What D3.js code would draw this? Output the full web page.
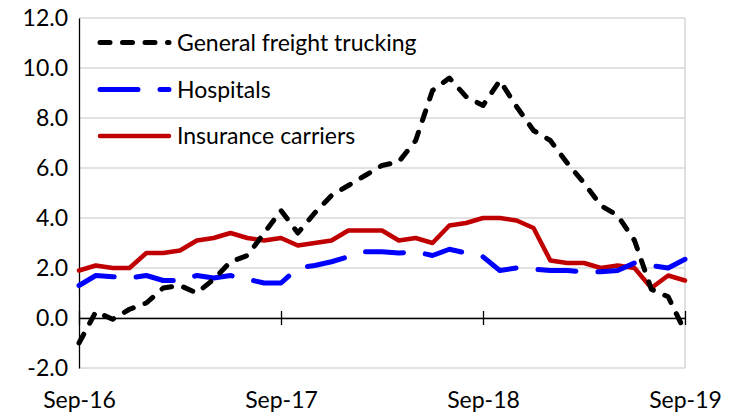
<!DOCTYPE html>
<html>
<head>
<meta charset="utf-8">
<script src="https://cdn.jsdelivr.net/npm/d3@7"></script>
<style>
  body { margin: 0; background: #fff; }
  svg text { font-family: Lato, "Open Sans", sans-serif; font-size: 23px; fill: #000; }
</style>
</head>
<body>
<svg id="chart"></svg>
<script>
// Monthly series, Sep-16 .. Sep-19 (37 points each)
const months = d3.timeMonth.range(new Date(2016, 8, 1), new Date(2019, 9, 1)).map(d3.timeFormat("%b-%y"));
const tickLabels = ["Sep-16", "Sep-17", "Sep-18", "Sep-19"];
const yTicks = [-2, 0, 2, 4, 6, 8, 10, 12];

const freight = [-1.0, 0.25, -0.05, 0.35, 0.6, 1.2, 1.3, 1.0, 1.55, 2.25, 2.5, 3.4, 4.3,
  3.4, 4.2, 4.9, 5.3, 5.7, 6.1, 6.25, 7.1, 9.1, 9.6, 8.85, 8.5,
  9.5, 8.45, 7.5, 7.1, 6.2, 5.4, 4.5, 4.1, 3.1, 1.15, 0.85, -0.55];
const hospitals = [1.3, 1.7, 1.65, 1.6, 1.7, 1.5, 1.5, 1.7, 1.6, 1.7, 1.55, 1.4, 1.4,
  2.0, 2.1, 2.25, 2.45, 2.65, 2.65, 2.6, 2.65, 2.5, 2.75, 2.6, 2.45,
  1.9, 2.0, 1.95, 1.9, 1.9, 1.85, 1.85, 1.9, 2.2, 2.1, 2.0, 2.35];
const insurance = [1.9, 2.1, 2.0, 2.0, 2.6, 2.6, 2.7, 3.1, 3.2, 3.4, 3.2, 3.1, 3.2,
  2.9, 3.0, 3.1, 3.5, 3.5, 3.5, 3.1, 3.2, 3.0, 3.7, 3.8, 4.0,
  4.0, 3.9, 3.6, 2.3, 2.2, 2.2, 2.0, 2.1, 2.0, 1.2, 1.7, 1.5];

const seriesNames = ["General freight trucking", "Hospitals", "Insurance carriers"];

const width = 733, height = 413;
const plotLeft = 79, plotRight = 685, plotTop = 18, plotBottom = 368;

const svg = d3.select("#chart").attr("width", width).attr("height", height);

const x = d3.scalePoint().domain(months).range([plotLeft, plotRight]);
const y = d3.scaleLinear().domain([-2, 12]).range([plotBottom, plotTop]);

// gridlines
svg.append("g")
  .selectAll("line")
  .data(yTicks)
  .join("line")
  .attr("x1", plotLeft).attr("x2", plotRight)
  .attr("y1", d => y(d)).attr("y2", d => y(d))
  .attr("stroke", "#d9d9d9").attr("stroke-width", 1.3);

// right border of plot area
svg.append("line")
  .attr("x1", plotRight).attr("x2", plotRight).attr("y1", plotTop).attr("y2", plotBottom)
  .attr("stroke", "#d0d0d0").attr("stroke-width", 1.3);

// y axis
const yAxis = svg.append("g")
  .attr("transform", `translate(${plotLeft},0)`)
  .call(d3.axisLeft(y).tickValues(yTicks).tickSize(0).tickPadding(11).tickFormat(d => d.toFixed(1)));
yAxis.select(".domain").attr("stroke", "#000").attr("stroke-width", 1.3);
yAxis.selectAll("text").style("font-family", "Lato, sans-serif").style("font-size", "23px");

// x axis at zero, ticks crossing the line
const xAxis = svg.append("g")
  .attr("transform", `translate(0,${y(0)})`)
  .call(d3.axisBottom(x).tickValues(tickLabels).tickSize(7).tickSizeOuter(0));
xAxis.select(".domain").attr("stroke", "#000").attr("stroke-width", 1.3);
xAxis.selectAll(".tick line").attr("y1", -7).attr("stroke-width", 1.3);
xAxis.selectAll("text").attr("y", 74)
  .style("font-family", "Lato, sans-serif").style("font-size", "23px");

const line = d3.line()
  .x((d, i) => x(months[i]))
  .y(d => y(d));

const styles = [
  { color: "#000000", dash: "10,12.5", width: 5 },
  { color: "#0000ff", dash: "38,22", width: 5 },
  { color: "#c00000", dash: null, width: 4.5 }
];
const allSeries = [freight, hospitals, insurance];

// draw red first, then blue, black on top
[2, 1, 0].forEach(k => {
  svg.append("path")
    .datum(allSeries[k])
    .attr("d", line)
    .attr("fill", "none")
    .attr("stroke", styles[k].color)
    .attr("stroke-width", styles[k].width)
    .attr("stroke-dasharray", styles[k].dash)
    .attr("stroke-linecap", "round")
    .attr("stroke-linejoin", "round");
});

// legend
const legendY = [42.5, 89.5, 136];
const legend = svg.append("g")
  .selectAll("g")
  .data(seriesNames)
  .join("g")
  .attr("transform", (d, i) => `translate(0,${legendY[i]})`);

legend.append("line")
  .attr("x1", 100).attr("x2", 169)
  .attr("stroke", (d, i) => styles[i].color)
  .attr("stroke-width", (d, i) => styles[i].width)
  .attr("stroke-dasharray", (d, i) => styles[i].dash)
  .attr("stroke-linecap", "round");

legend.append("text")
  .attr("x", 177)
  .attr("dy", "0.36em")
  .text(d => d);
</script>
</body>
</html>
